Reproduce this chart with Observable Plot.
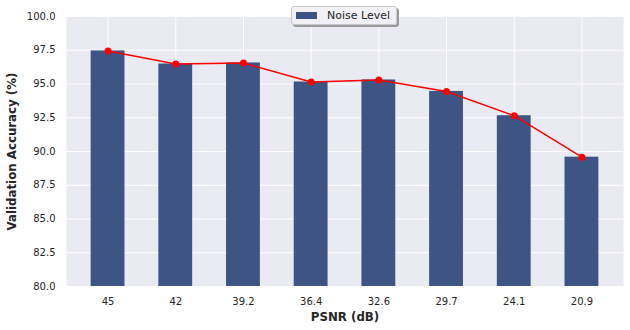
<!DOCTYPE html>
<html>
<head>
<meta charset="utf-8">
<script src="https://cdn.jsdelivr.net/npm/d3@7"></script>
<script src="https://cdn.jsdelivr.net/npm/@observablehq/plot@0.6"></script>
<style>
  html, body { margin: 0; padding: 0; background: #fff; }
  #wrap { position: relative; width: 630px; height: 330px; font-family: "DejaVu Sans", sans-serif; }
  #legend {
    position: absolute; left: 291px; top: 6px; width: 106px; height: 19px;
    background: rgba(240,240,246,0.95); border: 1px solid #c8c8c8; border-radius: 3px;
    box-shadow: 2px 2px 0 #9a9a9a; box-sizing: border-box;
    font-size: 11px; color: #262626;
  }
  #legend .sw { position: absolute; left: 4px; top: 5px; width: 21px; height: 7px; background: #3d5484; }
  #legend .lb { position: absolute; left: 35px; top: 2px; white-space: nowrap; }
</style>
</head>
<body>
<div id="wrap"><div id="chart"></div>
  <div id="legend"><div class="sw"></div><div class="lb">Noise Level</div></div>
</div>
<script>
const psnr = ["45", "42", "39.2", "36.4", "32.6", "29.7", "24.1", "20.9"];
const accuracy = [97.45, 96.48, 96.56, 95.15, 95.30, 94.45, 92.65, 89.58];
const yTicks = [80, 82.5, 85, 87.5, 90, 92.5, 95, 97.5, 100];
const xLabel = "PSNR (dB)";
const yLabel = "Validation Accuracy (%)";

const data = psnr.map((p, i) => ({psnr: p, acc: accuracy[i]}));

const chart = Plot.plot({
  width: 630,
  height: 330,
  marginLeft: 66,
  marginRight: 7,
  marginTop: 16,
  marginBottom: 44,
  style: {fontFamily: "DejaVu Sans, sans-serif", fontSize: "10px", color: "#262626", background: "transparent"},
  x: {domain: psnr, paddingInner: 0.5, paddingOuter: 0.364, align: 0.5, round: false},
  y: {domain: [80, 100]},
  marks: [
    Plot.frame({fill: "#eaeaf2", stroke: null}),
    Plot.gridX({stroke: "#fff", strokeOpacity: 1, strokeWidth: 1}),
    Plot.gridY(yTicks, {stroke: "#fff", strokeOpacity: 1, strokeWidth: 1}),
    Plot.barY(data, {x: "psnr", y1: 80, y2: "acc", fill: "#3d5484"}),
    Plot.line(data, {x: "psnr", y: "acc", stroke: "#ff0000", strokeWidth: 1.5}),
    Plot.dot(data, {x: "psnr", y: "acc", fill: "#ff0000", r: 3.5}),
    Plot.axisX({tickSize: 0, tickPadding: 11, label: xLabel, labelAnchor: "center", labelOffset: 34,
      fontSize: 10}),
    Plot.axisY(yTicks, {tickSize: 0, tickPadding: 11, tickFormat: d => d.toFixed(1),
      label: yLabel, labelAnchor: "center", labelOffset: 59, fontSize: 10})
  ]
});
document.getElementById("chart").appendChild(chart);
// bold axis labels, no arrows
[["x-axis label", xLabel], ["y-axis label", yLabel]].forEach(([sel, txt]) => {
  chart.querySelectorAll(`g[aria-label='${sel}'] text`).forEach(t => {
    t.textContent = txt;
    t.style.fontWeight = "bold"; t.style.fontSize = "11.8px"; t.setAttribute("fill", "#262626");
  });
});
</script>
</body>
</html>
